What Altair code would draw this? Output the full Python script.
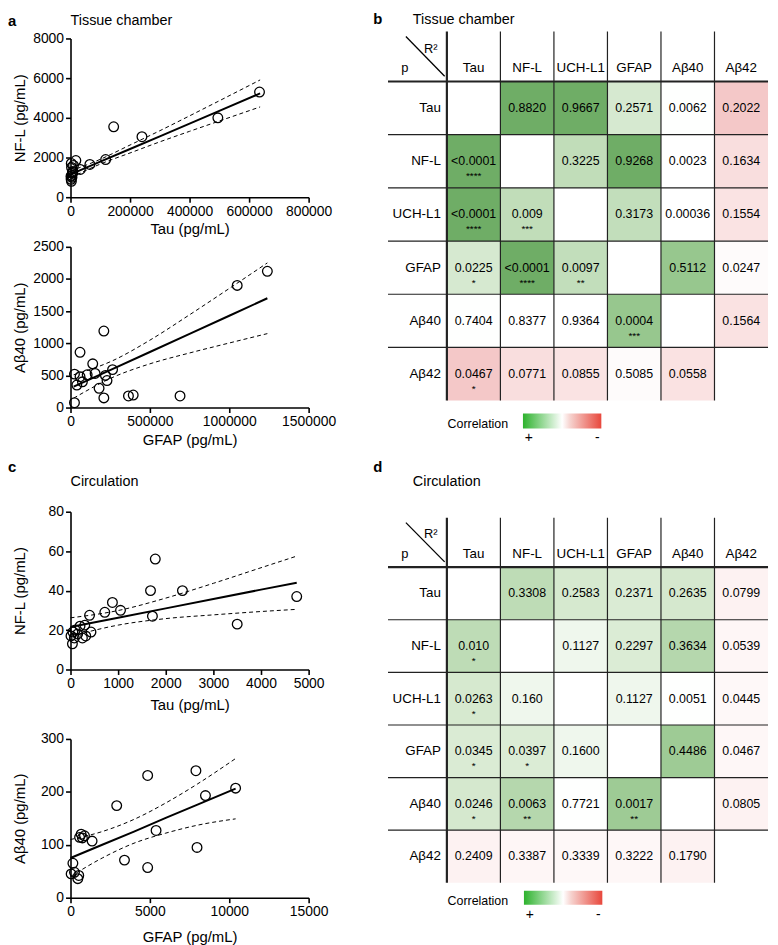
import altair as alt
import pandas as pd

FONT = "Liberation Sans"

# ---------------- scatter data ----------------
a1_tau = [635000, 495000, 240000, 145000, 118000, 65000, 33000, 18000, 10000, 7000,
          3000, 2000, 5000, 4000, 6000, 8000, 3500, 2500, 1500]
a1_nfl = [5300, 4000, 3050, 3550, 1900, 1650, 1400, 1850, 1600, 1250,
          800, 900, 1000, 1100, 1200, 1300, 1500, 1700, 1050]
a1_fit_x = [0, 100000, 200000, 300000, 400000, 500000, 637000]
a1_fit = [1150, 1790, 2430, 3070, 3710, 4350, 5230]
a1_up = [1320, 1910, 2630, 3350, 4100, 4860, 5910]
a1_lo = [980, 1670, 2230, 2790, 3320, 3840, 4550]

a2_gfap = [1240000, 1050000, 210000, 60000, 140000, 265000, 25000, 105000, 155000, 60000,
           75000, 40000, 220000, 230000, 180000, 210000, 25000, 365000, 395000, 690000]
a2_ab40 = [2120, 1900, 1190, 860, 680, 590, 520, 510, 530, 480,
           400, 350, 500, 420, 300, 150, 75, 180, 195, 180]
a2_fit_x = [20000, 260000, 500000, 750000, 1000000, 1240000]
a2_fit = [325, 593, 864, 1146, 1428, 1700]
a2_up = [510, 723, 1048, 1443, 1852, 2250]
a2_lo = [146, 463, 680, 849, 1004, 1150]

c1_tau = [1780, 1680, 2350, 1720, 3500, 4750, 880, 720, 1050, 400, 200, 300,
          100, 50, 10, 80, 250, 320, 430, 40, 150]
c1_nfl = [56, 40, 40, 27, 23, 37, 34, 29, 30, 27.5, 22, 22.5,
          20, 19, 17, 16, 16, 17, 19, 13, 18]
c1_fit_x = [0, 1000, 2000, 3000, 4000, 4750]
c1_fit = [21.5, 26.2, 31.0, 35.7, 40.5, 44.0]
c1_up = [26.2, 29.9, 36.2, 43.7, 51.6, 57.5]
c1_lo = [16.8, 22.5, 25.8, 27.7, 29.4, 30.5]

c2_gfap = [10400, 8500, 7900, 4860, 2910, 5390, 7970, 3400, 4860, 1360,
           670, 880, 570, 750, 150, 40, 250, 520, 460]
c2_ab40 = [207, 193, 240, 231, 174, 127, 95, 71, 57, 107,
           120, 117, 114, 113, 65, 45, 48, 42, 36]
c2_fit_x = [0, 2000, 4000, 6000, 8000, 10400]
c2_fit = [75, 100, 125, 151, 176, 206]
c2_up = [110, 125, 148, 179, 215, 263]
c2_lo = [40, 75, 103, 122, 137, 149]

# ---------------- table data ----------------
markers = ["Tau", "NF-L", "UCH-L1", "GFAP", "Aβ40", "Aβ42"]

tissue_text = [
    ["", "0.8820", "0.9667", "0.2571", "0.0062", "0.2022"],
    ["<0.0001", "", "0.3225", "0.9268", "0.0023", "0.1634"],
    ["<0.0001", "0.009", "", "0.3173", "0.00036", "0.1554"],
    ["0.0225", "<0.0001", "0.0097", "", "0.5112", "0.0247"],
    ["0.7404", "0.8377", "0.9364", "0.0004", "", "0.1564"],
    ["0.0467", "0.0771", "0.0855", "0.5085", "0.0558", ""],
]
tissue_stars = [
    ["", "", "", "", "", ""],
    ["****", "", "", "", "", ""],
    ["****", "***", "", "", "", ""],
    ["*", "****", "**", "", "", ""],
    ["", "", "", "***", "", ""],
    ["*", "", "", "", "", ""],
]
# signed R2 (upper triangle), + = positive correlation, - = negative
tissue_signed = [
    [None, 0.8820, 0.9667, 0.2571, 0.0062, -0.2022],
    [None, None, 0.3225, 0.9268, 0.0023, -0.1634],
    [None, None, None, 0.3173, 0.00036, -0.1554],
    [None, None, None, None, 0.5112, -0.0247],
    [None, None, None, None, None, -0.1564],
    [None, None, None, None, None, None],
]

circ_text = [
    ["", "0.3308", "0.2583", "0.2371", "0.2635", "0.0799"],
    ["0.010", "", "0.1127", "0.2297", "0.3634", "0.0539"],
    ["0.0263", "0.160", "", "0.1127", "0.0051", "0.0445"],
    ["0.0345", "0.0397", "0.1600", "", "0.4486", "0.0467"],
    ["0.0246", "0.0063", "0.7721", "0.0017", "", "0.0805"],
    ["0.2409", "0.3387", "0.3339", "0.3222", "0.1790", ""],
]
circ_stars = [
    ["", "", "", "", "", ""],
    ["*", "", "", "", "", ""],
    ["*", "", "", "", "", ""],
    ["*", "*", "", "", "", ""],
    ["*", "**", "", "**", "", ""],
    ["", "", "", "", "", ""],
]
circ_signed = [
    [None, 0.3308, 0.2583, 0.2371, 0.2635, -0.0799],
    [None, None, 0.1127, 0.2297, 0.3634, -0.0539],
    [None, None, None, 0.1127, 0.0051, -0.0445],
    [None, None, None, None, 0.4486, -0.0467],
    [None, None, None, None, None, -0.0805],
    [None, None, None, None, None, None],
]

AX = dict(domainColor="black", domainWidth=1.6, tickColor="black", tickWidth=1.6,
          tickSize=5, labelFont=FONT, labelFontSize=14, labelColor="black",
          titleFont=FONT, titleFontSize=15, titleFontWeight="normal", titleColor="black",
          grid=False, labelPadding=2, format="d",
          labelFlush=False, labelOverlap=False)


def text_layer(text, x, y, size=15, bold=False, baseline="top"):
    return alt.Chart(pd.DataFrame({"t": [text]})).mark_text(
        font=FONT, fontWeight="bold" if bold else "normal", fontSize=size, align="left",
        baseline=baseline, color="black"
    ).encode(text="t:N", x=alt.value(x), y=alt.value(y))


def scatter(xv, yv, fx, fy, fu, fl, xdom, ydom, xticks, yticks, xtitle, ytitle, h,
            title=None, title_y=-18, letter=None, letter_y=-25, xpad=4):
    pts = pd.DataFrame({"x": xv, "y": yv})
    fit = pd.DataFrame({"x": fx, "fit": fy, "up": fu, "lo": fl})
    xs = alt.Scale(domain=xdom, nice=False, zero=False)
    ys = alt.Scale(domain=ydom, nice=False, zero=False)
    xax = alt.Axis(values=xticks, title=xtitle, titlePadding=xpad, **AX)
    yax = alt.Axis(values=yticks, title=ytitle, titleX=-43, titlePadding=4, **AX)
    X = alt.X("x:Q", scale=xs, axis=xax)
    p = alt.Chart(pts).mark_point(shape="circle", filled=False, size=95, color="black",
                                  strokeWidth=1.3, opacity=1).encode(
        x=X, y=alt.Y("y:Q", scale=ys, axis=yax))
    base = alt.Chart(fit)
    line = base.mark_line(color="black", strokeWidth=2).encode(
        x=X, y=alt.Y("fit:Q", scale=ys, axis=yax))
    up = base.mark_line(color="black", strokeWidth=1, strokeDash=[4, 3], interpolate="monotone").encode(
        x=X, y=alt.Y("up:Q", scale=ys, axis=yax))
    lo = base.mark_line(color="black", strokeWidth=1, strokeDash=[4, 3], interpolate="monotone").encode(
        x=X, y=alt.Y("lo:Q", scale=ys, axis=yax))
    layers = [up, lo, line, p]
    if letter:
        layers.append(text_layer(letter, -63, letter_y, size=15, bold=True))
    if title:
        layers.append(text_layer(title, 0, title_y, size=14.5, baseline="middle"))
    return alt.layer(*layers).properties(width=240, height=h)


XMIN, YMIN = -0.1, 0.06
cscale = alt.Scale(
    domain=[-0.2, -0.15, 0, 0.12, 0.26, 0.33, 0.45, 0.88],
    range=["#f4c8c8", "#fbe6e6", "#ffffff", "#eef6ec", "#d6e9cf", "#bedcb6", "#9ecb95", "#6fad66"],
    interpolate="rgb", clamp=True)


def table(texts, stars, signed, W, H, title, title_y, letter, letter_y, leg, shift=0):
    # shift: pixels by which the table is drawn above the view origin
    rows = []
    for i in range(6):
        for j in range(6):
            if i < j:
                v = signed[i][j]
            elif i > j:
                v = signed[j][i]
            else:
                v = 0.0
            rows.append(dict(x0=j + 1, x1=j + 2, y0=i + 1, y1=i + 2, xc=j + 1.5, yc=i + 1.5,
                             v=v, t=texts[i][j], s=stars[i][j]))
    cells = pd.DataFrame(rows)
    unit = H / (7 - YMIN)
    xs = alt.Scale(domain=[XMIN, 7], nice=False, zero=False)
    ys = alt.Scale(domain=[YMIN + shift / unit, 7], nice=False, zero=False, reverse=True)

    def X(f):
        return alt.X(f, scale=xs, axis=None)

    def Y(f):
        return alt.Y(f, scale=ys, axis=None)

    rect = alt.Chart(cells).mark_rect(strokeWidth=0).encode(
        x=X("x0:Q"), x2="x1:Q", y=Y("y0:Q"), y2="y1:Q",
        color=alt.Color("v:Q", scale=cscale, legend=None))
    vals = alt.Chart(cells).transform_filter("datum.t != ''").mark_text(
        font=FONT, fontSize=12.5, color="black", baseline="middle").encode(
        x=X("xc:Q"), y=Y("yc:Q"), text="t:N")
    st = alt.Chart(cells).transform_filter("datum.s != ''").mark_text(
        font=FONT, fontSize=10, color="black", baseline="middle", dy=15).encode(
        x=X("xc:Q"), y=Y("yc:Q"), text="s:N")

    vdf = pd.DataFrame({"x": [1, 2, 3, 4, 5, 6], "y0": [YMIN] * 6, "y1": [7] * 6,
                        "w": [2.2, 1.2, 1.2, 1.2, 1.2, 1.2]})
    hdf = pd.DataFrame({"y": [1, 2, 3, 4, 5, 6], "x0": [XMIN] * 6, "x1": [7] * 6,
                        "w": [2.2, 1.2, 1.2, 1.2, 1.2, 1.2]})
    vr = alt.Chart(vdf).mark_rule(color="#222222").encode(
        x=X("x:Q"), y=Y("y0:Q"), y2="y1:Q", strokeWidth=alt.StrokeWidth("w:Q", scale=None))
    hr = alt.Chart(hdf).mark_rule(color="#222222").encode(
        y=Y("y:Q"), x=X("x0:Q"), x2="x1:Q", strokeWidth=alt.StrokeWidth("w:Q", scale=None))

    colh = pd.DataFrame({"name": markers, "xc": [j + 1.5 for j in range(6)], "yc": [0.75] * 6})
    rowh = pd.DataFrame({"name": markers, "x": [1] * 6, "yc": [i + 1.5 for i in range(6)]})
    ch_t = alt.Chart(colh).mark_text(font=FONT, fontSize=13.5, color="black").encode(
        x=X("xc:Q"), y=Y("yc:Q"), text="name:N")
    rh_t = alt.Chart(rowh).mark_text(font=FONT, fontSize=13.5, color="black", align="right", dx=-6).encode(
        x=X("x:Q"), y=Y("yc:Q"), text="name:N")

    diag = alt.Chart(pd.DataFrame({"x": [0.234], "y": [0.153], "x2": [0.958], "y2": [0.90]})).mark_rule(
        color="black", strokeWidth=1.3).encode(x=X("x:Q"), y=Y("y:Q"), x2="x2:Q", y2="y2:Q")
    corner = alt.Chart(pd.DataFrame({"t": ["R²", "p"], "x": [0.70, 0.215], "y": [0.38, 0.75]})).mark_text(
        font=FONT, fontSize=13, color="black").encode(x=X("x:Q"), y=Y("y:Q"), text="t:N")

    grad = alt.Gradient(gradient="linear", x1=0, x2=1, y1=0, y2=0, stops=[
        alt.GradientStop(color="#2db22d", offset=0),
        alt.GradientStop(color="#ffffff", offset=0.5),
        alt.GradientStop(color="#f6d3cf", offset=0.6),
        alt.GradientStop(color="#e8473c", offset=1)])
    one = pd.DataFrame({"t": ["Correlation"]})
    gx0, gx1, gy0, gy1, ty, sy = leg
    bar = alt.Chart(one).mark_rect(fill=grad).encode(
        x=alt.value(gx0), x2=alt.value(gx1), y=alt.value(gy0 - shift), y2=alt.value(gy1 - shift))
    ltxt = alt.Chart(one).mark_text(font=FONT, fontSize=12.5, align="left", color="black").encode(
        text="t:N", x=alt.value(60), y=alt.value(ty - shift))
    sgn = alt.Chart(pd.DataFrame({"t": ["+", "-"], "px": [gx0 + 6, gx1 - 4]})).mark_text(
        font=FONT, fontSize=14, color="black").encode(
        text="t:N", x=alt.X("px:Q", scale=None), y=alt.value(sy - shift))

    layers = [rect, vr, hr, vals, st, ch_t, rh_t, diag, corner, bar, ltxt, sgn,
              text_layer(letter, -15, letter_y - shift, size=15, bold=True),
              text_layer(title, 25, title_y - shift, size=14.5, baseline="middle")]
    return alt.layer(*layers).properties(width=W, height=H - shift)


a1 = scatter(a1_tau, a1_nfl, a1_fit_x, a1_fit, a1_up, a1_lo, [0, 800000], [0, 8000],
             [0, 200000, 400000, 600000, 800000], [0, 2000, 4000, 6000, 8000],
             "Tau (pg/mL)", "NF-L (pg/mL)", 160, title="Tissue chamber", title_y=-18,
             letter="a", letter_y=-25)
a2 = scatter(a2_gfap, a2_ab40, a2_fit_x, a2_fit, a2_up, a2_lo, [0, 1500000], [0, 2500],
             [0, 500000, 1000000, 1500000], [0, 500, 1000, 1500, 2000, 2500],
             "GFAP (pg/mL)", "Aβ40 (pg/mL)", 162)
c1 = scatter(c1_tau, c1_nfl, c1_fit_x, c1_fit, c1_up, c1_lo, [0, 5000], [0, 80],
             [0, 1000, 2000, 3000, 4000, 5000], [0, 20, 40, 60, 80],
             "Tau (pg/mL)", "NF-L (pg/mL)", 159, title="Circulation", title_y=-30,
             letter="c", letter_y=-52, xpad=7)
c2 = scatter(c2_gfap, c2_ab40, c2_fit_x, c2_fit, c2_up, c2_lo, [0, 15000], [0, 300],
             [0, 5000, 10000, 15000], [0, 100, 200, 300],
             "GFAP (pg/mL)", "Aβ40 (pg/mL)", 160, xpad=11)

b = table(tissue_text, tissue_stars, tissue_signed, 383, 372, "Tissue chamber", -12, "b", -20,
          (136, 215, 385, 400, 396, 410), shift=7)
d = table(circ_text, circ_stars, circ_signed, 383, 368, "Circulation", -36, "d", -58,
          (137, 216, 376, 390, 386, 400))

left = alt.vconcat(alt.vconcat(a1, a2, spacing=3), alt.vconcat(c1, c2, spacing=20), spacing=13)
right = alt.vconcat(b, d, spacing=15)
chart = alt.hconcat(left, right, spacing=37).properties(padding=0).configure(
    font=FONT).configure_view(stroke=None)

chart.save("out.html", embed_options={"renderer": "svg", "actions": False})
